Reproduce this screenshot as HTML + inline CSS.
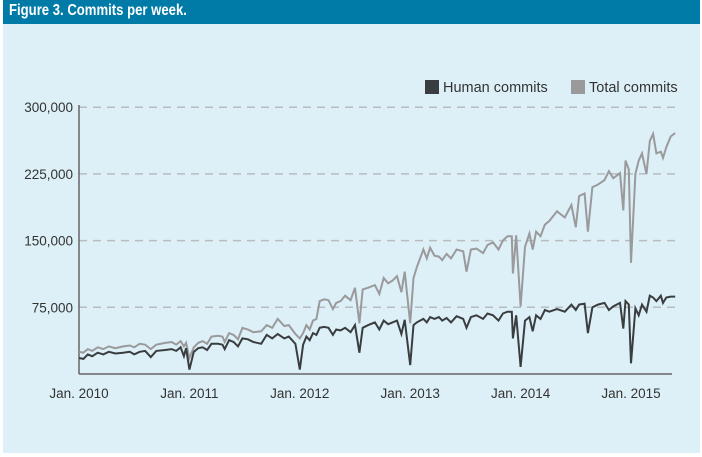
<!DOCTYPE html>
<html><head><meta charset="utf-8"><style>
html,body{margin:0;padding:0;background:#fff;}
#wrap{position:relative;width:702px;height:457px;overflow:hidden;background:#fff;}
#panel{position:absolute;left:3px;top:0;width:697px;height:453px;background:#ddf0f7;}
#hdr{position:absolute;left:3px;top:0;width:697px;height:24px;background:#007ba7;}
#hdr span{position:absolute;left:6px;top:2px;color:#fff;font:bold 16px "Liberation Sans",sans-serif;transform:scaleX(0.82);transform-origin:0 0;white-space:nowrap;}
svg{position:absolute;left:0;top:0;}
text{font-family:"Liberation Sans",sans-serif;fill:#333;}
</style></head><body>
<div id="wrap">
<div id="panel"></div>
<div id="hdr"><span>Figure 3. Commits per week.</span></div>
<svg id="chart" width="702" height="457"></svg>
</div>
<script>
const yTicks=[75000,150000,225000,300000];
const yTickLabels=["75,000","150,000","225,000","300,000"];
const xTicks=[2010,2011,2012,2013,2014,2015];
const xTickLabels=["Jan. 2010","Jan. 2011","Jan. 2012","Jan. 2013","Jan. 2014","Jan. 2015"];
const dates=[2010.00,2010.04,2010.08,2010.12,2010.17,2010.22,2010.27,2010.33,2010.40,2010.46,2010.50,2010.55,2010.60,2010.65,2010.70,2010.78,2010.84,2010.88,2010.92,2010.95,2010.97,2011.00,2011.04,2011.08,2011.12,2011.16,2011.20,2011.26,2011.30,2011.32,2011.36,2011.40,2011.44,2011.48,2011.53,2011.58,2011.65,2011.70,2011.75,2011.80,2011.86,2011.90,2011.96,2012.00,2012.03,2012.06,2012.09,2012.12,2012.15,2012.18,2012.22,2012.26,2012.30,2012.33,2012.37,2012.41,2012.46,2012.50,2012.54,2012.57,2012.62,2012.68,2012.72,2012.76,2012.80,2012.84,2012.88,2012.92,2012.95,2013.00,2013.03,2013.06,2013.09,2013.12,2013.15,2013.18,2013.22,2013.26,2013.29,2013.33,2013.37,2013.42,2013.48,2013.51,2013.55,2013.60,2013.66,2013.70,2013.75,2013.80,2013.84,2013.88,2013.92,2013.93,2013.96,2014.00,2014.04,2014.08,2014.11,2014.14,2014.18,2014.22,2014.26,2014.33,2014.40,2014.46,2014.50,2014.53,2014.58,2014.61,2014.65,2014.70,2014.76,2014.80,2014.84,2014.90,2014.93,2014.95,2014.98,2015.00,2015.04,2015.07,2015.10,2015.14,2015.17,2015.20,2015.23,2015.27,2015.29,2015.32,2015.36,2015.40];
const human=[18,17,22,20,24,22,25,23,24,25,22,25,26,19,26,27,28,26,30,20,29,5,25,29,30,27,34,34,33,28,38,36,31,40,39,36,34,44,40,45,40,42,34,5,33,42,38,46,44,52,53,52,44,50,49,52,47,55,24,52,55,58,50,60,56,58,60,45,61,10,55,58,60,62,58,64,62,64,60,63,58,65,62,52,64,66,62,68,66,60,68,70,70,40,66,8,60,64,48,66,62,72,70,73,70,78,72,78,79,46,75,78,80,72,76,80,51,82,78,12,74,66,78,70,88,86,82,88,80,86,87,87];
const total=[25,24,28,26,30,28,31,29,31,32,30,34,33,28,33,35,36,33,37,31,35,18,30,35,37,34,42,43,42,36,46,44,39,52,50,47,48,55,52,62,54,55,45,40,46,55,50,60,62,82,84,83,73,80,82,88,83,97,57,95,97,100,90,108,102,105,110,92,115,57,108,120,130,140,130,142,133,132,128,135,130,140,138,115,140,141,136,145,148,140,150,155,155,113,156,76,143,158,140,160,155,168,172,183,176,190,165,200,203,160,210,213,218,228,220,226,184,240,230,125,225,240,248,225,262,270,248,250,243,255,267,271];
const NS='http://www.w3.org/2000/svg';
const svg=document.getElementById('chart');
const X0=79,PXY=110.4,Y0=374,PXV=66.7/75000;
const xs=d=>X0+(d-2010)*PXY;
const ys=v=>Y0-v*PXV;
function mk(tag,attrs){const e=document.createElementNS(NS,tag);for(const k in attrs)e.setAttribute(k,attrs[k]);svg.appendChild(e);return e;}
yTicks.forEach((t,i)=>{
 const g=mk('line',{x1:X0,x2:680,y1:ys(t),y2:ys(t),stroke:'#b8bcbf','stroke-width':1.5,'stroke-dasharray':'8,6'});
 
 
 const tx=mk('text',{x:73,y:ys(t)+5,'text-anchor':'end','font-size':13.5});
 tx.textContent=yTickLabels[i];
 
 
});
xTicks.forEach((t,i)=>{
 const tx=mk('text',{x:xs(t),y:398,'text-anchor':'middle','font-size':13.5});
 tx.textContent=xTickLabels[i];
 
 
});
const ya=mk('line',{x1:X0,x2:X0,y1:105,y2:Y0,stroke:'#666','stroke-width':1.5});


const xa=mk('line',{x1:X0,x2:672,y1:Y0,y2:Y0,stroke:'#666','stroke-width':1.5});


function line(vals,color,name){
 const p=mk('polyline',{points:dates.map((d,i)=>xs(d).toFixed(1)+','+ys(vals[i]*1000).toFixed(1)).join(' '),fill:'none',stroke:color,'stroke-width':2,'stroke-linejoin':'miter'});
 
 
}
line(total,'#9a9a9c','total-commits-line');
line(human,'#3a3d3f','human-commits-line');
const l1=mk('rect',{x:425,y:80,width:14,height:14,fill:'#3a3d3f'});


const t1=mk('text',{x:443,y:92,'font-size':14.5});t1.textContent='Human commits';


const l2=mk('rect',{x:571,y:80,width:14,height:14,fill:'#9a9a9c'});


const t2=mk('text',{x:589,y:92,'font-size':14.5});t2.textContent='Total commits';


</script>
</body></html>
